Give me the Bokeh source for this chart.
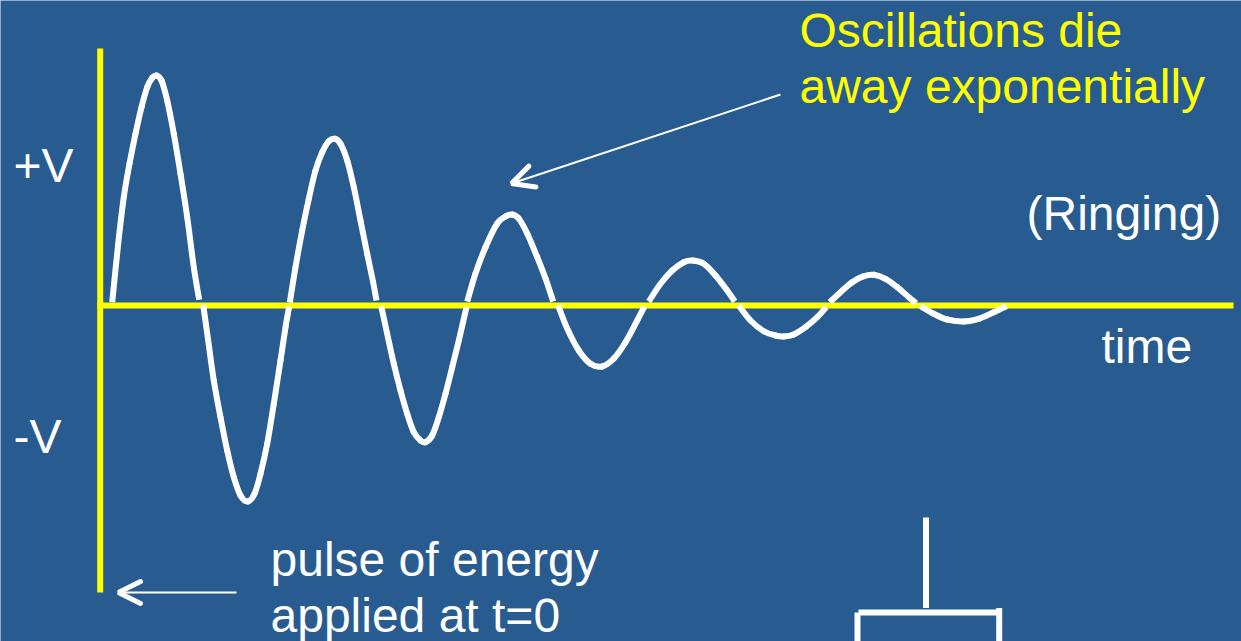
from bokeh.plotting import figure
from bokeh.embed import file_html
from bokeh.resources import INLINE
from bokeh.models import Arrow, OpenHead, Range1d
from bokeh.core.properties import value

BG = "#285C90"
YELLOW = "#FFFF00"
WHITE = "#FFFFFF"

# Half-waves of the ringing trace (picture units)
t1 = [111.7,117.7,123.3,129,135,141,146.7,151.7,156,161,166.7,173.3,180,186.7,193.3,198.7]
v1 = [301.7,243.3,196.7,163.3,133.3,106.7,86.7,77.3,75,80,100,133.3,173.3,216.7,266.7,299.3]
t2 = [202.7,207.7,213.3,220,226.7,233.3,240,247.3,254,260,266.7,273.3,280,285,288.7]
v2 = [304.3,340,380,416.7,450,476.7,495,501,493.3,473.3,443.3,403.3,360,326.7,306]
t3 = [289.3,295,301.7,308.3,315,321.7,328.3,334.3,340,346.7,353.3,360,366.7,372.3,376]
v3 = [302,266.7,230,198.3,170,151.7,140.7,138.3,143.3,160,186.7,220,253.3,280,300]
t4 = [380.7,386.7,393.3,400,406.7,413.3,420,425,431.7,438.3,445,451.7,458.3,466]
v4 = [305.7,333.3,363.3,390,413.3,431.7,440,441.7,435,416.7,393.3,366.7,340,306.7]
t5 = [466.7,475,485,496.7,505,511.7,518.3,526.7,536.7,545,552.7]
v5 = [301,273,246.7,223,216,214,218,233,256.7,278,301]
t6 = [557.7,566.7,578.3,590,601.7,613.3,625,636.7,644]
v6 = [305,328,350,363.3,366,358,341.7,320,306]
t7 = [648.3,660,671.7,683.3,692.3,703.3,715,726.7,734.3]
v7 = [301,283.3,270,261.7,260,263.3,275,290,301]
t8 = [738.3,750,763.3,775,783.3,793.3,805,816.7,825.7]
v8 = [305,320,330.7,335,336,334,326.7,316.7,306.7]
t9 = [829.3,840,851.7,863.3,873.3,885,896.7,908.3,915.7]
v9 = [301.7,291.7,281.7,275.7,274.3,278.3,286.7,296.7,302.7]
t10 = [920,933.3,946.7,963.3,978.3,993.3,1006]
v10 = [305.7,313.3,319,321,318.3,311.7,305.7]

time_axis_t = [97, 1233]
time_axis_v = [305, 305]
volt_axis_t = [99.7, 99.7]
volt_axis_v = [48, 592]

stem_t = [925.5, 925.5]
stem_v = [517, 607.5]
box_xs = [[858, 998], [857, 857], [998.7, 998.7]]
box_ys = [[612, 612], [612, 641], [607.5, 641]]

labels = ["Oscillations die", "away exponentially", "+V", "-V", "(Ringing)", "time",
          "pulse of energy", "applied at t=0"]
label_t = [799, 799, 13, 13, 1026, 1101, 270, 270]
label_v = [30, 86, 165, 436, 213, 346, 559, 615]
label_colors = [YELLOW, YELLOW, WHITE, WHITE, WHITE, WHITE, WHITE, WHITE]

p = figure(width=1241, height=641, output_backend="svg", toolbar_location=None,
           x_range=Range1d(0, 1241), y_range=Range1d(641, 0), min_border=0,
           background_fill_color=BG, border_fill_color=BG, outline_line_color=None)
p.axis.visible = False
p.grid.visible = False

p.line(time_axis_t, time_axis_v, line_color=YELLOW, line_width=6)
p.line(volt_axis_t, volt_axis_v, line_color=YELLOW, line_width=6)


def bezier_pieces(t, v, first, last):
    """Smooth curve pieces that pass through every point that was read."""
    n = len(t)
    out = {k: [] for k in ("x0", "y0", "x1", "y1", "cx0", "cy0", "cx1", "cy1")}
    for i in range(first, last):
        a, b = max(i - 1, 0), min(i + 2, n - 1)
        out["x0"].append(t[i]); out["y0"].append(v[i])
        out["x1"].append(t[i + 1]); out["y1"].append(v[i + 1])
        out["cx0"].append(t[i] + (t[i + 1] - t[a]) / 6)
        out["cy0"].append(v[i] + (v[i + 1] - v[a]) / 6)
        out["cx1"].append(t[i + 1] - (t[b] - t[i]) / 6)
        out["cy1"].append(v[i + 1] - (v[b] - v[i]) / 6)
    return out


def draw_pieces(src, cap):
    p.bezier(source=src, x0="x0", y0="y0", x1="x1", y1="y1",
             cx0="cx0", cy0="cy0", cx1="cx1", cy1="cy1",
             line_color=WHITE, line_width=6, line_cap=cap)


for t, v in [(t1, v1), (t2, v2), (t3, v3), (t4, v4), (t5, v5),
             (t6, v6), (t7, v7), (t8, v8), (t9, v9), (t10, v10)]:
    n = len(t)
    draw_pieces(bezier_pieces(t, v, 0, 1), "butt")
    draw_pieces(bezier_pieces(t, v, n - 2, n - 1), "butt")
    draw_pieces(bezier_pieces(t, v, 1, n - 2), "round")

p.line(stem_t, stem_v, line_color=WHITE, line_width=6)
p.multi_line(box_xs, box_ys, line_color=WHITE, line_width=6)

p.add_layout(Arrow(end=OpenHead(line_color=WHITE, line_width=5, size=22, line_cap="round"),
                   x_start=780, y_start=94, x_end=511, y_end=183,
                   line_color=WHITE, line_width=2))
p.add_layout(Arrow(end=OpenHead(line_color=WHITE, line_width=5, size=22, line_cap="round"),
                   x_start=236, y_start=592, x_end=118, y_end=592,
                   line_color=WHITE, line_width=2))

p.text(label_t, label_v, text=labels, text_color=label_colors,
       text_font=value("Liberation Sans"), text_font_size="48px",
       text_align="left", text_baseline="alphabetic")

open("out.html", "w").write(file_html(p, INLINE))
